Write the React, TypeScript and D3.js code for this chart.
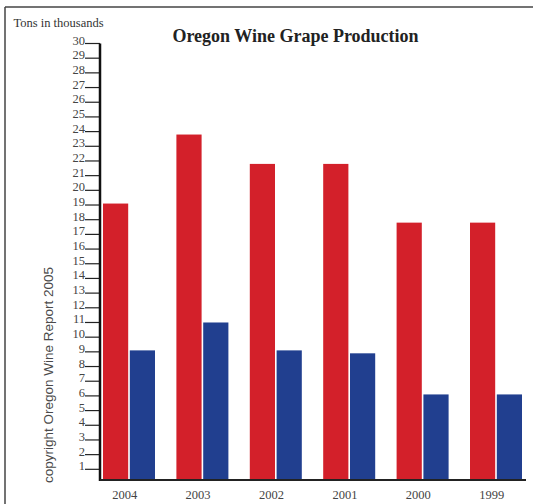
import React, { useRef, useEffect } from "react";
import * as d3 from "d3";

// values in thousands of tons
const years = ["2004", "2003", "2002", "2001", "2000", "1999"];
const redValues = [19.1, 23.8, 21.8, 21.8, 17.8, 17.8];
const blueValues = [9.1, 11.0, 9.1, 8.9, 6.1, 6.1];
const yTicks = d3.range(1, 31);

const W = 533;
const H = 504;

const App: React.FC = () => {
  const svgRef = useRef<SVGSVGElement | null>(null);

  useEffect(() => {
    const svg = d3.select(svgRef.current);
    svg.selectAll("*").remove();

    const serif = "'Liberation Serif', 'Times New Roman', serif";

    // frame
    svg.append("line").attr("x1", 5).attr("x2", W).attr("y1", 7).attr("y2", 7)
      .attr("stroke", "#444").attr("stroke-width", 1.5);
    svg.append("line").attr("x1", 5).attr("x2", 5).attr("y1", 7).attr("y2", H)
      .attr("stroke", "#444").attr("stroke-width", 1.5);

    const x = d3.scaleBand().domain(years).range([88, 528.4]);
    const sub = d3.scaleBand().domain(["red", "blue"]).range([15, 67]).paddingInner(0.06);
    const y = d3.scaleLinear().domain([0, 30]).range([484, 43.5]);
    const baseY = 480;

    // bars
    const g = svg.append("g");
    g.selectAll("rect.red")
      .data(redValues)
      .join("rect")
      .attr("class", "red")
      .attr("x", (_, i) => (x(years[i]) ?? 0) + (sub("red") ?? 0))
      .attr("y", (d) => y(d))
      .attr("width", sub.bandwidth())
      .attr("height", (d) => baseY - y(d))
      .attr("fill", "#d3202a");
    g.selectAll("rect.blue")
      .data(blueValues)
      .join("rect")
      .attr("class", "blue")
      .attr("x", (_, i) => (x(years[i]) ?? 0) + (sub("blue") ?? 0))
      .attr("y", (d) => y(d))
      .attr("width", sub.bandwidth())
      .attr("height", (d) => baseY - y(d))
      .attr("fill", "#213f8f");

    // y ticks drawn as underscores after the numbers
    const yt = svg.append("g");
    yt.selectAll("line")
      .data(yTicks)
      .join("line")
      .attr("x1", 85).attr("x2", 100)
      .attr("y1", (d) => y(d)).attr("y2", (d) => y(d))
      .attr("stroke", "#222").attr("stroke-width", 1.2);
    yt.selectAll("text")
      .data(yTicks)
      .join("text")
      .attr("x", 85)
      .attr("y", (d) => y(d) + 1)
      .attr("text-anchor", "end")
      .attr("font-family", serif)
      .attr("font-size", 12.5)
      .attr("fill", "#444")
      .text((d) => d);

    // axes
    svg.append("line").attr("x1", 100).attr("x2", 100).attr("y1", y(30)).attr("y2", baseY + 1)
      .attr("stroke", "#111").attr("stroke-width", 2.5);
    svg.append("line").attr("x1", 100).attr("x2", 526).attr("y1", baseY).attr("y2", baseY)
      .attr("stroke", "#222").attr("stroke-width", 2);

    // x labels
    svg.append("g")
      .selectAll("text")
      .data(years)
      .join("text")
      .attr("x", (d) => (x(d) ?? 0) + x.bandwidth() / 2)
      .attr("y", 499)
      .attr("text-anchor", "middle")
      .attr("font-family", serif)
      .attr("font-size", 12.5)
      .attr("fill", "#444")
      .text((d) => d);

    // titles
    svg.append("text")
      .attr("x", 13.5).attr("y", 27)
      .attr("font-family", serif).attr("font-size", 12.5)
      .attr("fill", "#333")
      .text("Tons in thousands");
    svg.append("text")
      .attr("x", 295.5).attr("y", 41.5)
      .attr("text-anchor", "middle")
      .attr("font-family", serif).attr("font-size", 18).attr("font-weight", "bold")
      .attr("fill", "#222")
      .text("Oregon Wine Grape Production");
    svg.append("text")
      .attr("transform", "translate(53,483) rotate(-90)")
      .attr("font-family", "'Liberation Sans', Arial, sans-serif")
      .attr("font-size", 13.5)
      .attr("fill", "#4a4a4a")
      .text("copyright Oregon Wine Report 2005");
  }, []);

  return (
    <div>
      <svg ref={svgRef} width={W} height={H}
        style={{ position: "absolute", left: 0, top: 0, background: "#fff" }} />
    </div>
  );
};

export default App;
